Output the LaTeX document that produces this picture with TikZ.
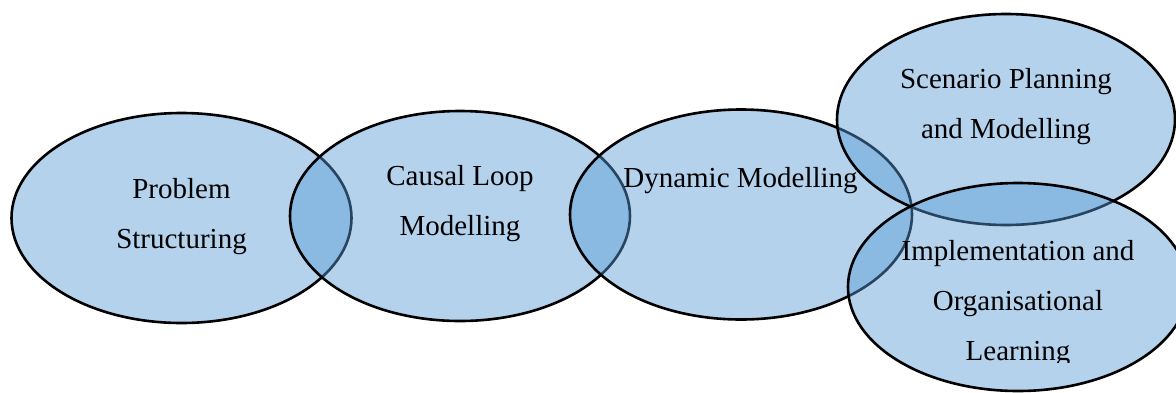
\documentclass[tikz,border=0pt]{standalone}
\usepackage{fontspec}
\setmainfont{Liberation Serif}
\usetikzlibrary{shapes.geometric}
\definecolor{blobblue}{RGB}{88,155,213}
\tikzset{
  blob/.style={ellipse, draw=black, line width=2.6pt, fill=blobblue,
    fill opacity=0.45, draw opacity=1, inner sep=0pt,
    minimum width=340pt, minimum height=210pt},
  caption/.style={font=\fontsize{29}{50}\selectfont, align=center,
    inner sep=0pt, anchor=base, text=black}
}
\begin{document}
\begin{tikzpicture}[x=1pt,y=-1pt]
  \useasboundingbox (0,0) rectangle (1176,392);
  % the five overlapping stages, drawn left to right
  \node[blob] (ps) at (181.5,218) {};
  \node[blob] (cl) at (460,216) {};
  \node[blob, minimum width=342pt] (dm) at (741,214.5) {};
  \node[blob, minimum width=338pt, minimum height=211pt] (sp) at (1006,119.5) {};
  \node[blob, minimum height=208pt] (io) at (1018,287) {};
  % stage names (anchored at the baseline of their last line)
  \node[caption] (tps) at (181.5,248) {Problem\\Structuring};
  \node[caption] (tcl) at (460,235) {Causal Loop\\Modelling};
  \node[caption] (tdm) at (740.5,187) {Dynamic Modelling};
  \node[caption] (tsp) at (1006,138) {Scenario Planning\\and Modelling};
  \begin{scope}
    \clip (0,0) rectangle (1176,362);
    \node[caption] (tio) at (1018,360) {Implementation and\\Organisational\\Learning};
  \end{scope}
\end{tikzpicture}
\end{document}
